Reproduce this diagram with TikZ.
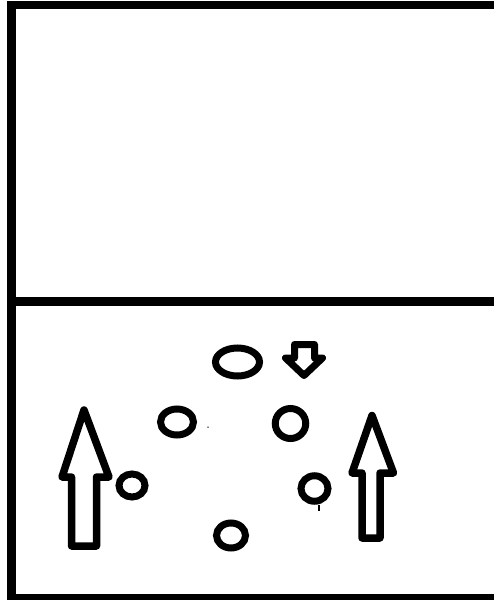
\documentclass[tikz,border=0pt]{standalone}
\usepackage{tikz}
\usetikzlibrary{shapes.geometric}

\tikzset{
  frameline/.style={line width=8.5pt,line cap=butt},
  blob/.style={draw,ellipse,line width=7pt,inner sep=0pt},
  hollowarrow/.style={draw,line width=7.5pt,line join=round,fill=white},
  speck/.style={fill,inner sep=0pt,minimum size=1.5pt,circle}
}

\begin{document}
\begin{tikzpicture}[x=1pt,y=-1pt]
\useasboundingbox (0,0) rectangle (494,600);
\clip (0,0) rectangle (494,600);
% frame
\draw[frameline] (494,5) -| (11.5,598.5) -- (494,598.5);
\draw[frameline] (11.5,301.5) -- (494,301.5);
% ellipses
\node[blob,minimum width=44pt,minimum height=28pt] (top) at (237.5,362) {};
\node[blob,minimum width=33pt,minimum height=26pt] (midl) at (177,422) {};
\node[blob,minimum width=30.5pt,minimum height=30pt] (midr) at (290.5,423.5) {};
\node[blob,minimum width=26pt,minimum height=23pt] (lowl) at (132,485.5) {};
\node[blob,minimum width=27pt,minimum height=25.5pt] (lowr) at (314.5,488.5) {};
\node[blob,minimum width=29pt,minimum height=25pt] (bot) at (231,535.5) {};
% specks
\node[speck] (dot) at (208,427) {};
\draw[line width=1.2pt] (lowr.south) ++(4.5,0) -- ++(0,6);
% arrows
\draw[hollowarrow] (84,410) -- (109,477) -- (96.5,477) -- (96.5,546)
  -- (71.5,546) -- (71.5,477) -- (62,477) -- cycle;
\draw[hollowarrow] (372,415.5) -- (393.5,473) -- (380,473) -- (380,538)
  -- (362,538) -- (362,473) -- (352,473) -- cycle;
\draw[hollowarrow,line width=7pt] (304,375.5) -- (322.5,358) -- (314.5,358) -- (314.5,344.5)
  -- (294.5,344.5) -- (294.5,358) -- (285.5,358) -- cycle;
\end{tikzpicture}
\end{document}
